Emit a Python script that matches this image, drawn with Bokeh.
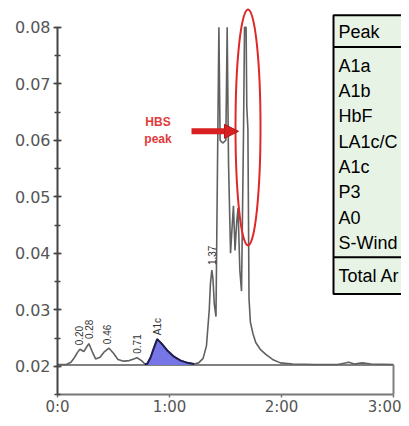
import numpy as np
from bokeh.plotting import figure
from bokeh.models import (Range1d, SingleIntervalTicker, FixedTicker,
                          NumeralTickFormatter, Arrow, NormalHead)
from bokeh.core.properties import value
from bokeh.embed import file_html
from bokeh.resources import INLINE

# ---------------- data ----------------
# chromatogram trace: retention time (min) and absorbance
trace_t = [0.00, 0.08, 0.12, 0.15, 0.18, 0.20, 0.235, 0.26, 0.28, 0.31,
           0.34, 0.38, 0.42, 0.46, 0.50, 0.54, 0.59, 0.64, 0.68, 0.71,
           0.75, 0.78, 0.80, 0.83, 0.86, 0.89, 0.93, 0.98, 1.04, 1.10,
           1.16, 1.22, 1.26, 1.30, 1.33, 1.355, 1.365, 1.378, 1.388, 1.40,
           1.415, 1.441, 1.452, 1.475, 1.503, 1.515, 1.527, 1.545, 1.560, 1.571,
           1.585, 1.600, 1.612, 1.628, 1.643, 1.660, 1.670, 1.684, 1.690, 1.700,
           1.710, 1.722, 1.745, 1.770, 1.810, 1.860, 1.920, 1.990, 2.100, 2.300,
           2.500, 2.550, 2.600, 2.650, 2.720, 2.800, 3.000]
trace_v = [0.0203, 0.0203, 0.0207, 0.0215, 0.0225, 0.0230, 0.0226, 0.0234, 0.0240, 0.0226,
           0.0213, 0.0216, 0.0226, 0.0232, 0.0223, 0.0212, 0.0209, 0.0210, 0.0213, 0.0215,
           0.0210, 0.0204, 0.0204, 0.0215, 0.0232, 0.0248, 0.0240, 0.0228, 0.0217, 0.0210,
           0.0206, 0.0204, 0.0206, 0.0214, 0.0236, 0.0300, 0.0345, 0.0370, 0.0355, 0.0310,
           0.0288, 0.0800, 0.0600, 0.0595, 0.0600, 0.0800, 0.0560, 0.0400, 0.0450, 0.0484,
           0.0405, 0.0455, 0.0480, 0.0370, 0.0333, 0.0600, 0.0800, 0.0800, 0.0660, 0.0620,
           0.0320, 0.0278, 0.0258, 0.0242, 0.0230, 0.0221, 0.0212, 0.0206, 0.0204, 0.0203,
           0.0203, 0.0205, 0.0207, 0.0204, 0.0206, 0.0204, 0.0203]

peak_labels = ["0.20", "0.28", "0.46", "0.71", "A1c", "1.37"]
peak_t = [0.196, 0.277, 0.446, 0.710, 0.897, 1.380]
peak_v = [0.0230, 0.0241, 0.0232, 0.0215, 0.0248, 0.0372]

a1c_window = [0.78, 1.25]
baseline_v = 0.0202
run_end = 3.0
axis_floor = 0.015
axis_top = 0.08

x_ticks = [0, 1, 2, 3]
x_tick_labels = ["0:0", "1:00", "2:00", "3:00"]

table_header = "Peak"
table_rows = ["A1a", "A1b", "HbF", "LA1c/C", "A1c", "P3", "A0", "S-Wind"]
table_footer = "Total Ar"

hbs_text = ["HBS", "peak"]

# ---------------- layout helpers (picture pixels -> data) ----------------
def dx(px):
    return (px - 57) / 112.0

def dy(py):
    return 0.02 + (369 - py) / 5700.0

W, H = 401, 418
p = figure(width=W, height=H,
           x_range=Range1d(dx(57), dx(W)),
           y_range=Range1d(axis_floor, dy(0)),
           output_backend="svg", toolbar_location=None, title=None,
           min_border_left=57, min_border_right=0,
           min_border_top=0, min_border_bottom=H - 398)
p.outline_line_color = None
p.grid.visible = False
p.background_fill_color = "white"
p.border_fill_color = "white"

# axes
xa = p.xaxis[0]
xa.ticker = FixedTicker(ticks=x_ticks)
xa.major_label_overrides = {t: s for t, s in zip(x_ticks, x_tick_labels)}
xa.bounds = (0, run_end)
xa.axis_line_color = "#777777"
xa.axis_line_width = 2
xa.major_tick_line_color = "#777777"
xa.major_tick_line_width = 1.5
xa.major_tick_in = 0
xa.major_tick_out = 3
xa.minor_tick_line_color = None
xa.major_label_standoff = 0
xa.major_label_text_font = "DejaVu Sans"
xa.major_label_text_font_size = "15px"
xa.major_label_text_color = "#555555"

ya = p.yaxis[0]
ya.ticker = SingleIntervalTicker(interval=0.01, num_minor_ticks=2)
ya.formatter = NumeralTickFormatter(format="0.00")
ya.bounds = (axis_floor, axis_top)
ya.axis_line_color = "#444444"
ya.axis_line_width = 2
ya.major_tick_line_color = "#444444"
ya.major_tick_line_width = 1.5
ya.minor_tick_line_color = "#444444"
ya.minor_tick_line_width = 1.5
ya.major_tick_in = 4
ya.major_tick_out = 4
ya.minor_tick_in = 3
ya.minor_tick_out = 3
ya.major_label_standoff = 3
ya.major_label_text_font = "DejaVu Sans"
ya.major_label_text_font_size = "16px"
ya.major_label_text_color = "#555555"

# baseline box
p.line([0, run_end], [baseline_v, baseline_v], line_color="#808080", line_width=2)
p.line([run_end, run_end], [axis_floor, baseline_v], line_color="#808080", line_width=2)

# A1c shaded area
sel = [i for i, t in enumerate(trace_t) if a1c_window[0] <= t <= a1c_window[1]]
a_t = [trace_t[i] for i in sel]
a_v = [trace_v[i] for i in sel]
p.varea(x=a_t, y1=baseline_v, y2=a_v, fill_color="#7676e6")

# trace
p.line(trace_t, trace_v, line_color="#606060", line_width=1.6)
p.line(a_t, a_v, line_color="#1e1e50", line_width=2)

# peak labels (rotated)
p.text(x=peak_t, y=peak_v, text=peak_labels, angle=np.pi / 2,
       text_align="left", text_baseline="middle", y_offset=-4,
       text_font=value("Liberation Sans"), text_font_size="10px",
       text_color="#333333")

# HBS annotation
p.text(x=[dx(157.5), dx(157.5)], y=[dy(122.5), dy(140)], text=hbs_text,
       text_align="center", text_baseline="middle",
       text_font=value("Liberation Sans"), text_font_size="12px",
       text_font_style="bold", text_color="#e03a3a")
p.add_layout(Arrow(end=NormalHead(size=14, fill_color="#d92020",
                                  line_color="#a81818", line_width=1),
                   x_start=dx(191), y_start=dy(132), x_end=dx(238), y_end=dy(132),
                   line_color="#d92020", line_width=6))
p.ellipse(x=[dx(247.5)], y=[dy(128)], width=25 / 112.0, height=238 / 5700.0,
          fill_color=None, line_color="#e02828", line_width=2)

# results table (clipped at the right edge)
p.quad(left=[dx(333)], right=[dx(440)], top=[dy(15)], bottom=[dy(296)],
       fill_color="#e7f4e5", line_color="black", line_width=2)
p.segment(x0=[dx(333), dx(333)], x1=[dx(440), dx(440)],
          y0=[dy(47), dy(259)], y1=[dy(47), dy(259)],
          line_color="black", line_width=2)
tab_text = [table_header] + table_rows + [table_footer]
tab_y = [dy(32)] + [dy(66 + 25.5 * i) for i in range(len(table_rows))] + [dy(278)]
p.text(x=[dx(338)] * len(tab_text), y=tab_y, text=tab_text,
       text_align="left", text_baseline="middle",
       text_font=value("Liberation Sans"), text_font_size="18px",
       text_color="black")

open("out.html", "w").write(file_html(p, INLINE))
